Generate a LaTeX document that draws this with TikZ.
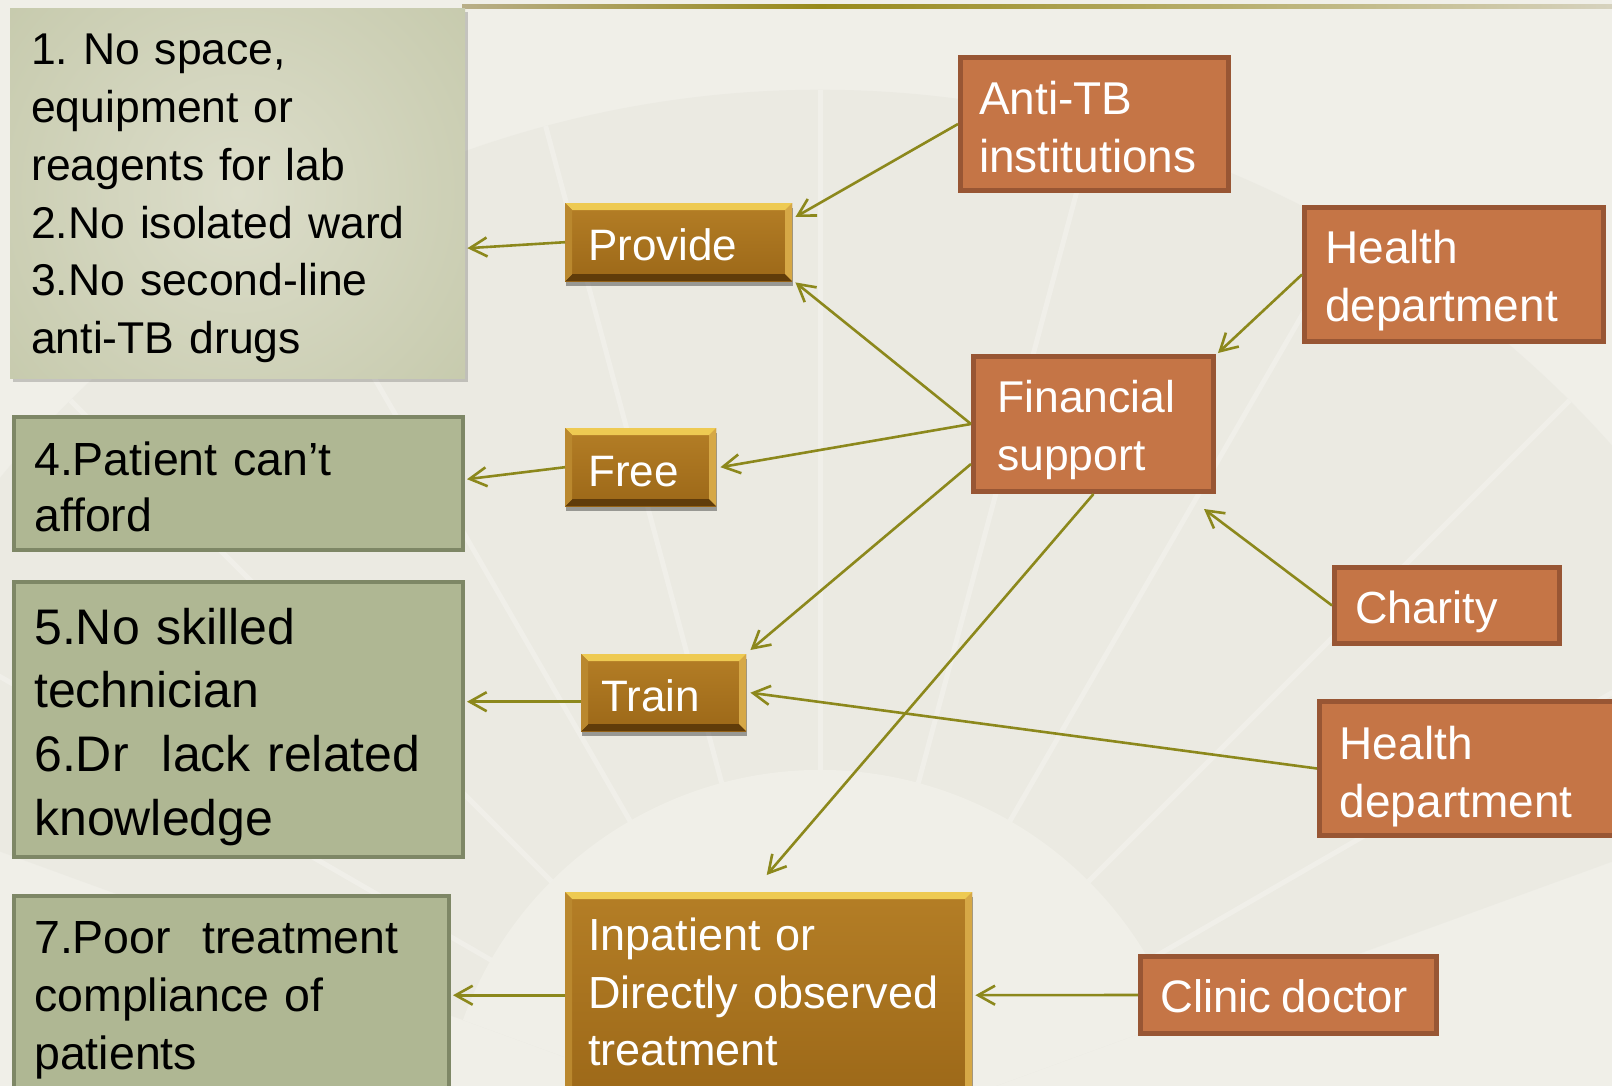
\documentclass[tikz,border=0pt]{standalone}
\usepackage{fontspec}
\setmainfont[WordSpace=0.8]{Liberation Sans}
\usetikzlibrary{arrows.meta,shadows,calc}
\definecolor{bg}{RGB}{240,239,232}
\definecolor{fan}{RGB}{232,231,223}
\definecolor{arr}{RGB}{140,136,28}
\definecolor{grn}{RGB}{175,183,147}
\definecolor{grnb}{RGB}{126,135,102}
\definecolor{grnin}{RGB}{220,221,202}
\definecolor{grnout}{RGB}{180,186,148}
\definecolor{org}{RGB}{197,117,70}
\definecolor{orgb}{RGB}{152,86,52}
\definecolor{goldtop}{RGB}{180,126,38}
\definecolor{goldbot}{RGB}{156,104,24}
\definecolor{goldlt}{RGB}{238,202,82}
\definecolor{golddk}{RGB}{96,60,10}
\definecolor{goldl}{RGB}{186,136,46}
\definecolor{goldr}{RGB}{214,168,70}
\definecolor{linel}{RGB}{184,174,136}
\definecolor{linem}{RGB}{152,138,26}
\definecolor{liner}{RGB}{214,210,190}
\tikzset{
  conn/.style={draw=arr, line width=2.6pt, -{Straight Barb[length=17pt,width=19pt]}},
  orgbox/.style={rectangle, fill=org, draw=orgb, line width=5pt, inner sep=0pt},
  grnbox/.style={rectangle, fill=grn, draw=grnb, line width=4pt, inner sep=0pt},
  softbox/.style={rectangle, inner sep=0pt,
    general shadow={fill=black, opacity=0.18, shadow xshift=3pt, shadow yshift=-4pt},
    path picture={\shade[inner color=grnin, outer color=grnout]
      (path picture bounding box.center) circle (560pt);}},
  goldbox/.style={rectangle, inner sep=0pt,
    general shadow={fill=black, opacity=0.35, shadow xshift=1pt, shadow yshift=-5pt},
    path picture={
      \shade[top color=goldtop, bottom color=goldbot]
        (path picture bounding box.south west) rectangle (path picture bounding box.north east);
      \fill[goldlt] (path picture bounding box.north west) -- (path picture bounding box.north east)
        -- ([xshift=-7pt,yshift=-7pt]path picture bounding box.north east)
        -- ([xshift=7pt,yshift=-7pt]path picture bounding box.north west) -- cycle;
      \fill[golddk] (path picture bounding box.south west) -- (path picture bounding box.south east)
        -- ([xshift=-7pt,yshift=7pt]path picture bounding box.south east)
        -- ([xshift=7pt,yshift=7pt]path picture bounding box.south west) -- cycle;
      \fill[goldl] (path picture bounding box.north west) -- (path picture bounding box.south west)
        -- ([xshift=7pt,yshift=7pt]path picture bounding box.south west)
        -- ([xshift=7pt,yshift=-7pt]path picture bounding box.north west) -- cycle;
      \fill[goldr] (path picture bounding box.north east) -- (path picture bounding box.south east)
        -- ([xshift=-7pt,yshift=7pt]path picture bounding box.south east)
        -- ([xshift=-7pt,yshift=-7pt]path picture bounding box.north east) -- cycle;
    }},
  txt/.style={anchor=base west, inner sep=0pt, text width=620pt, align=left},
  wtxt/.style={anchor=base west, inner sep=0pt, text=white},
}
\frenchspacing
\begin{document}
\begin{tikzpicture}[x=1pt, y=-1pt]
% background
\fill[bg] (0,0) rectangle (1612,1086);
\useasboundingbox (0,0) rectangle (1612,1086);
% faint fan
\fill[fan, opacity=0.6] (820,1150) -- ++(-160:1060) arc[start angle=-160, end angle=-20, radius=1060] -- cycle;
\fill[bg] (820,1150) -- ++(-160:380) arc[start angle=-160, end angle=-20, radius=380] -- cycle;
\foreach \a in {-150,-135,...,-30} \draw[white, line width=5pt, opacity=0.25] (820,1150) ++(\a:380) -- ++(\a:680);
% top rule
\shade[left color=linel, right color=linem] (462,4.8) rectangle (820,8.3);
\shade[left color=linem, right color=liner] (820,4.8) rectangle (1612,8.3);

% left problem boxes
\node[softbox, minimum width=455pt, minimum height=370pt, anchor=north west] (b1) at (10,8) {};
\node[grnbox, minimum width=449pt, minimum height=133pt, anchor=north west] (b4) at (12,415) {};
\node[grnbox, minimum width=449pt, minimum height=275pt, anchor=north west] (b5) at (12,580) {};
\node[grnbox, minimum width=435pt, minimum height=220pt, anchor=north west] (b7) at (12,894) {};

\node[txt, font=\fontsize{44.5}{57.7}\selectfont] (t1) at (31,65)
  {1. No space,\\equipment or\\reagents for lab\\2.No isolated ward\\3.No second-line\\anti-TB drugs};
\node[txt, font=\fontsize{46.5}{56.5}\selectfont] (t4) at (34,475) {4.Patient can’t\\afford};
\node[txt, font=\fontsize{50}{63.7}\selectfont] (t5) at (34,644)
  {5.No skilled\\technician\\6.Dr~~lack related\\knowledge};
\node[txt, font=\fontsize{46.5}{58}\selectfont] (t7) at (34,953)
  {7.Poor~~treatment\\compliance of\\patients};

% gold action boxes
\node[goldbox, minimum width=227pt, minimum height=78pt, anchor=north west] (prov) at (565,203) {};
\node[goldbox, minimum width=151pt, minimum height=78pt, anchor=north west] (free) at (565,428) {};
\node[goldbox, minimum width=165pt, minimum height=77pt, anchor=north west] (train) at (581,654) {};
\node[goldbox, minimum width=407pt, minimum height=210pt, anchor=north west] (inp) at (565,892) {};

\node[wtxt, font=\fontsize{44}{57}\selectfont] (tp) at (588,261) {Provide};
\node[wtxt, font=\fontsize{44}{57}\selectfont] (tf) at (588,486) {Free};
\node[wtxt, font=\fontsize{44}{57}\selectfont] (tt) at (601,711) {Train};
\node[txt, text=white, font=\fontsize{45}{57.6}\selectfont] (ti) at (588,950.5)
  {Inpatient or\\Directly observed\\treatment};

% orange source boxes
\node[orgbox, minimum width=268pt, minimum height=133pt, anchor=north west] (anti) at (958,55) {};
\node[orgbox, minimum width=299pt, minimum height=134pt, anchor=north west] (h1) at (1302,205) {};
\node[orgbox, minimum width=240pt, minimum height=135pt, anchor=north west] (fin) at (971,354) {};
\node[orgbox, minimum width=225pt, minimum height=76pt, anchor=north west] (char) at (1332,565) {};
\node[orgbox, minimum width=310pt, minimum height=134pt, anchor=north west] (h2) at (1317,699) {};
\node[orgbox, minimum width=296pt, minimum height=77pt, anchor=north west] (clin) at (1138,954) {};

\node[txt, text=white, font=\fontsize{46}{57.5}\selectfont] (ta) at (979,114.7) {Anti-TB\\institutions};
\node[txt, text=white, font=\fontsize{46}{58}\selectfont] (th1) at (1325,263.7) {Health\\department};
\node[txt, text=white, font=\fontsize{44.5}{57.3}\selectfont] (tfin) at (997,412.7) {Financial\\support};
\node[wtxt, font=\fontsize{45}{57}\selectfont] (tc) at (1355,623) {Charity};
\node[txt, text=white, font=\fontsize{46}{58}\selectfont] (th2) at (1339.5,759) {Health\\department};
\node[wtxt, font=\fontsize{45.5}{57}\selectfont] (tcl) at (1160,1012.5) {Clinic doctor};

% connectors
\draw[conn] (prov.west) -- ([xshift=2pt,yshift=-6pt]prov.west -| b1.east);
\draw[conn] (free.west) -- ([xshift=2pt,yshift=-12pt]free.west -| b4.east);
\draw[conn] ([yshift=-9pt]train.west) -- ([xshift=2pt,yshift=-9pt]train.west -| b5.east);
\draw[conn] ([yshift=2pt]inp.west) -- ([xshift=2pt,yshift=2pt]inp.west -| b7.east);

\draw[conn] (anti.west) -- ([xshift=3pt,yshift=-14pt]prov.north east);
\draw[conn] (fin.west) -- ([xshift=3pt,yshift=-1pt]prov.south east);
\draw[conn] (fin.west) -- ([xshift=4pt]free.east);
\draw[conn] ([yshift=-40pt]fin.west) -- ([xshift=4pt,yshift=4pt]train.north east);
\draw[conn] (fin.south) -- ([xshift=-2pt,yshift=17pt]inp.north);
\draw[conn] (h1.west) -- ([xshift=2pt,yshift=1pt]fin.north east);
\draw[conn] (char.west) -- ([xshift=-12pt,yshift=-15pt]fin.south east);
\draw[conn] (h2.west) -- ([xshift=4pt]train.east);
\draw[conn] (clin.west) -- ([xshift=3pt,yshift=2pt]inp.east);
\end{tikzpicture}
\end{document}
